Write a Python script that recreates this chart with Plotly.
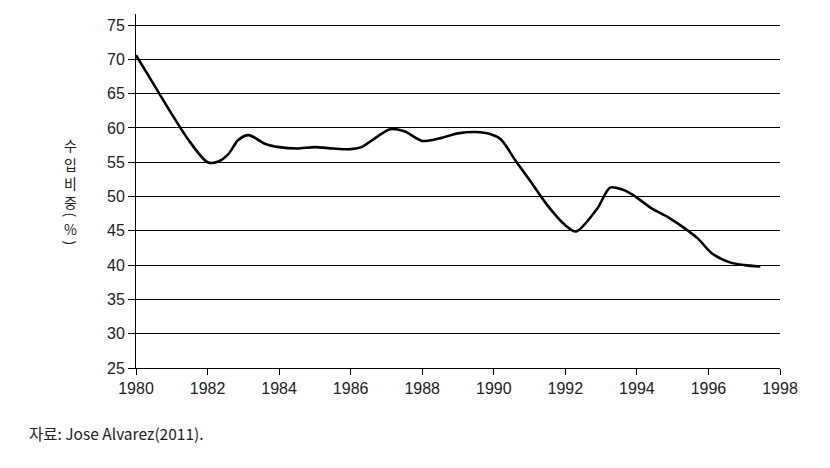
import plotly.graph_objects as go

years = [1980.0, 1980.5, 1981.0, 1981.5, 1982.0, 1982.3, 1982.6, 1982.85, 1983.15, 1983.6,
         1984.0, 1984.5, 1985.0, 1985.5, 1986.0, 1986.3, 1986.6, 1987.1, 1987.5, 1988.0,
         1988.5, 1989.0, 1989.5, 1989.9, 1990.2, 1990.6, 1991.0, 1991.5, 1992.0, 1992.3,
         1992.9, 1993.25, 1993.6, 1993.9, 1994.4, 1994.9, 1995.3, 1995.7, 1996.1, 1996.6,
         1997.0, 1997.45]
share = [70.6, 66.3, 62.0, 58.0, 55.0, 55.1, 56.3, 58.2, 58.95, 57.7,
         57.2, 57.0, 57.2, 57.0, 56.9, 57.2, 58.2, 59.8, 59.5, 58.1,
         58.5, 59.2, 59.4, 59.1, 58.3, 55.3, 52.4, 48.7, 45.8, 44.9,
         48.3, 51.3, 51.0, 50.2, 48.3, 46.9, 45.5, 43.9, 41.7, 40.4,
         40.0, 39.8]

x_ticks = list(range(1980, 1999, 2))
y_ticks = list(range(25, 80, 5))
y_title_chars = ["수", "입", "비", "중", "(", "%", ")"]
source_text = "자료: Jose Alvarez(2011)."

FONT = "Liberation Sans, Noto Sans CJK KR, sans-serif"
KFONT = "Noto Sans CJK KR, sans-serif"
TXT = "#222222"

fig = go.Figure()
fig.add_trace(go.Scatter(x=years, y=share, mode="lines",
                         line=dict(color="black", width=2.6, shape="spline", smoothing=0.8),
                         hoverinfo="skip", showlegend=False))

W, H = 830, 468
L, R, T, B = 135.5, 50, 14, 100
pw = W - L - R
ph = H - T - B

fig.update_layout(
    width=W, height=H,
    margin=dict(l=L, r=R, t=T, b=B, autoexpand=False),
    paper_bgcolor="white", plot_bgcolor="white",
    font=dict(family=FONT, size=16, color=TXT),
    xaxis=dict(range=[1980, 1998], tickvals=x_ticks, ticktext=[str(v) for v in x_ticks],
               showgrid=False, zeroline=False, showline=True, linecolor="black", linewidth=1,
               ticks="outside", ticklen=6, tickcolor="black", tickwidth=1,
               tickfont=dict(size=16, color=TXT, family=FONT)),
    yaxis=dict(range=[25, 25 + ph / 6.86], tickvals=y_ticks, ticktext=[str(v) for v in y_ticks],
               showgrid=True, gridcolor="black", gridwidth=1, zeroline=False,
               showline=True, linecolor="black", linewidth=1,
               ticks="outside", ticklen=7, tickcolor="black", tickwidth=1,
               tickfont=dict(size=16, color=TXT, family=FONT)),
)

# vertical y-axis title, one character per annotation
char_y = [145, 164, 183, 202, 215, 229, 243]
for ch, py in zip(y_title_chars, char_y):
    rot = 90 if ch in "()" else 0
    fig.add_annotation(text=ch, xref="paper", yref="paper",
                       x=(70 - L) / pw, y=(H - B - py) / ph,
                       showarrow=False, textangle=rot,
                       font=dict(size=14, color=TXT, family=KFONT),
                       xanchor="center", yanchor="middle")

fig.add_annotation(text=source_text, xref="paper", yref="paper",
                   x=(26 - L) / pw, y=(H - B - 433) / ph,
                   showarrow=False, xanchor="left", yanchor="middle",
                   font=dict(size=15.5, color=TXT, family=KFONT))

fig.write_html("out.html")
